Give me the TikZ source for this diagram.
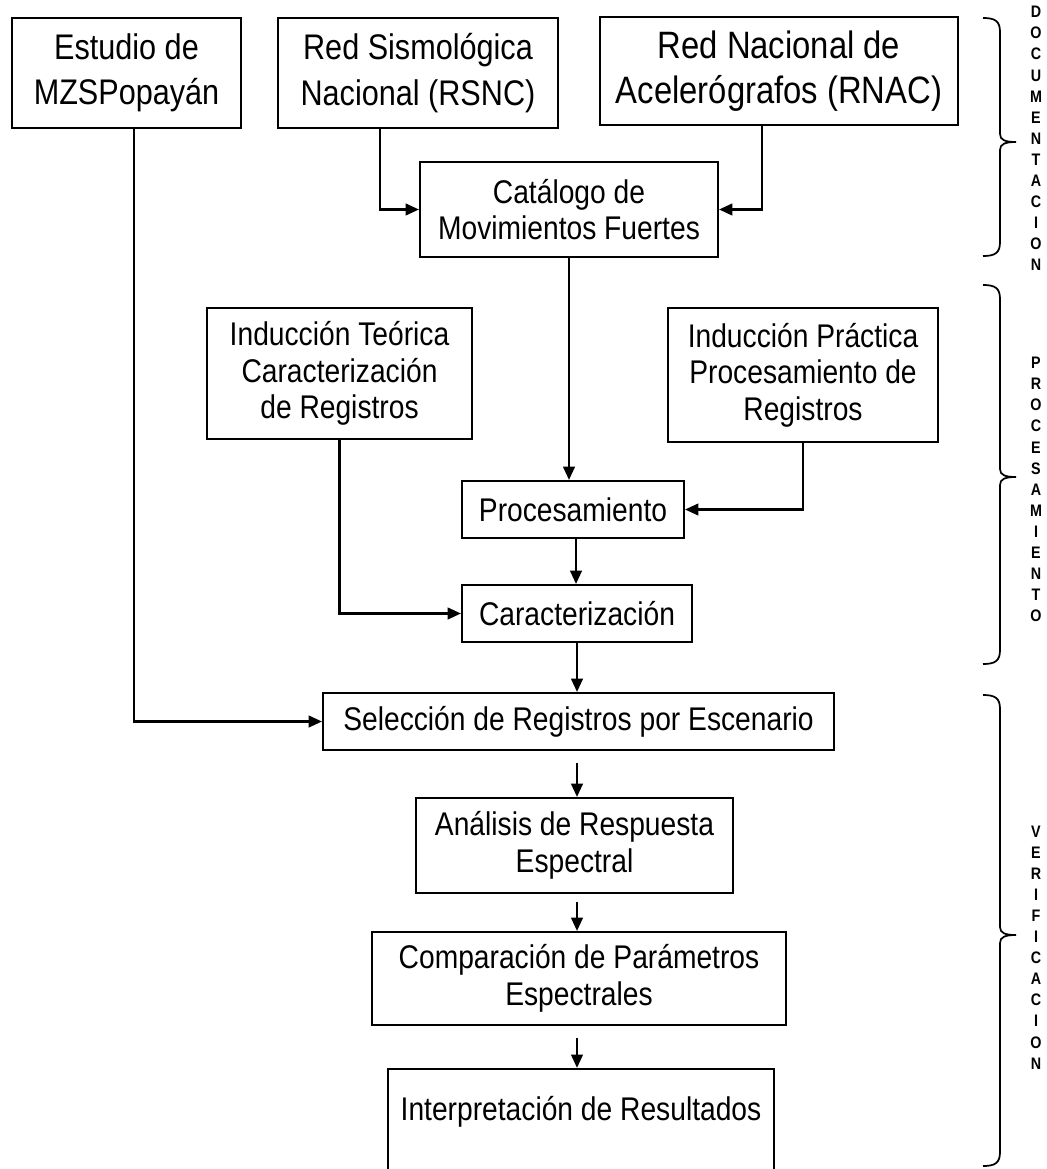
\documentclass[tikz,border=0pt]{standalone}
\usepackage{fontspec}
\setmainfont[FakeStretch=0.86]{Liberation Sans}
\usetikzlibrary{arrows.meta,calc}
\newcommand\sidebrace[3]{%
  \draw[brace] (983,#1) .. controls (995,#1) and (1000,{#1+3}) .. (1000,{#1+14})
    -- (1000,{#2-8}) .. controls (1000,{#2-2}) and (1005,#2) .. (1016,#2)
    .. controls (1005,#2) and (1000,{#2+2}) .. (1000,{#2+8})
    -- (1000,{#3-14}) .. controls (1000,{#3-3}) and (995,#3) .. (983,#3);}
\begin{document}
\begin{tikzpicture}[x=0.75pt,y=-0.75pt,
  box/.style={draw, line width=1.4pt, inner sep=0pt, align=center,
    font=\fontsize{24.6}{27.5}\selectfont},
  bigbox/.style={box, font=\fontsize{26.7}{34}\selectfont},
  conn/.style={line width=2.1pt, -{Triangle[length=10pt,width=8.5pt]}},
  brace/.style={line width=1.3pt},
  side/.style={font=\fontsize{12.5}{15.8}\selectfont\bfseries, align=center, inner sep=0pt}]
\useasboundingbox (0,0) rectangle (1046,1169);
% top row
\node[bigbox, minimum width=171.75pt, minimum height=82.5pt] (A) at (126.5,73) {Estudio de\\MZSPopayán};
\node[bigbox, minimum width=210pt, minimum height=82.5pt] (B) at (418,73) {Red Sismológica\\Nacional (RSNC)};
\node[bigbox, minimum width=268.5pt, minimum height=81pt, font=\fontsize{28.6}{34}\selectfont] (C) at (779,71) {Red Nacional de\\Acelerógrafos (RNAC)};
% middle
\node[box, minimum width=223.5pt, minimum height=71.25pt] (D) at (569,209.5) {Catálogo de\\Movimientos Fuertes};
\node[box, minimum width=198.75pt, minimum height=98.25pt] (E) at (339.5,373.5) {Inducción Teórica\\Caracterización\\de Registros};
\node[box, minimum width=202.5pt, minimum height=100.5pt] (F) at (803,375) {Inducción Práctica\\Procesamiento de\\Registros};
\node[box, minimum width=166.5pt, minimum height=42.75pt] (G) at (573,509.5) {Procesamiento};
\node[box, minimum width=172.5pt, minimum height=42.75pt] (H) at (577,613.5) {Caracterización};
\node[box, minimum width=383.25pt, minimum height=42.75pt] (I) at (578.5,721.5) {Selección de Registros por Escenario};
\node[box, minimum width=237.75pt, minimum height=71.25pt] (J) at (574.5,845.5) {Análisis de Respuesta\\Espectral};
\node[box, minimum width=310.5pt, minimum height=69.75pt] (K) at (579,978.5) {Comparación de Parámetros\\Espectrales};
\node[box, minimum width=289.5pt, minimum height=84pt, anchor=north] (L) at (581,1068) {};
\node[box, draw=none] (Lt) at (581,1112) {Interpretación de Resultados};
% connectors
\draw[conn] ($(A.south)+(7.5,0)$) |- (I.west);
\draw[conn] ($(B.south)+(-38,0)$) |- (D.west);
\draw[conn] ($(C.south)+(-17,0)$) |- (D.east);
\draw[conn] (D.south) -- (D.south |- G.north);
\draw[conn] (E.south) |- (H.west);
\draw[conn] (F.south) |- (G.east);
\draw[conn] ($(G.south)+(3,0)$) coordinate (g1) -- (g1 |- H.north);
\draw[conn] (H.south) -- (H.south |- I.north);
\draw[conn, shorten <=9pt] ($(J.north |- I.south)+(2.5,0)$) coordinate (i1) -- (i1 |- J.north);
\draw[conn, shorten <=6pt] ($(J.south)+(2.5,0)$) coordinate (j1) -- (j1 |- K.north);
\draw[conn, shorten <=9pt] ($(K.south)+(-2,0)$) coordinate (k1) -- (k1 |- L.north);
% braces
\sidebrace{18}{142}{256}
\sidebrace{285}{477}{664}
\sidebrace{695}{935}{1166}
\node[side] (s1) at (1036,138.5) {D\\O\\C\\U\\M\\E\\N\\T\\A\\C\\I\\O\\N};
\node[side] (s2) at (1036,489.5) {P\\R\\O\\C\\E\\S\\A\\M\\I\\E\\N\\T\\O};
\node[side] (s3) at (1036,947.5) {V\\E\\R\\I\\F\\I\\C\\A\\C\\I\\O\\N};
\end{tikzpicture}
\end{document}
